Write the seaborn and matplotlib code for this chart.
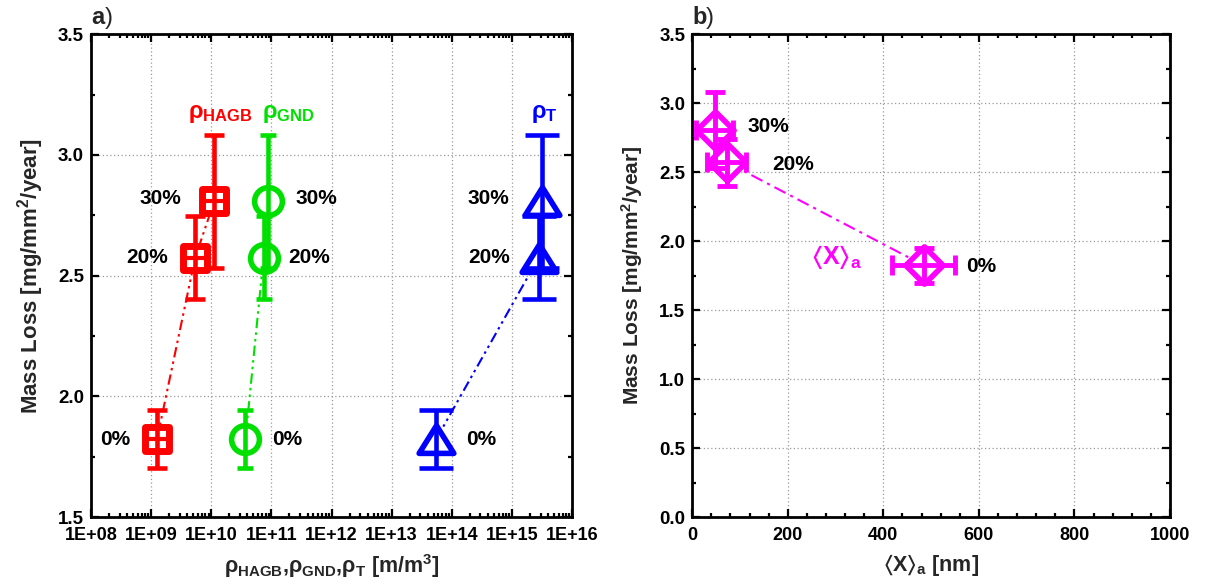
import numpy as np
import pandas as pd
import matplotlib
matplotlib.use("Agg")
import matplotlib.pyplot as plt
import seaborn as sns
from matplotlib.path import Path
from matplotlib.ticker import LogLocator, MultipleLocator, NullFormatter, FuncFormatter

# ---------------- data ----------------
strain = ["0%", "20%", "30%"]
mass_loss = [1.822, 2.575, 2.808]
mass_err = [0.12, 0.172, 0.275]
rho_hagb = [1.25e9, 5.4e9, 1.12e10]
rho_gnd = [3.7e10, 7.4e10, 8.8e10]
rho_t = [5.5e13, 2.8e15, 3.2e15]
x_a = [485.0, 72.0, 47.0]
x_a_err = [66.0, 41.0, 39.0]
mass_loss_b = [1.824, 2.573, 2.807]
mass_err_b = [0.126, 0.17, 0.273]

x_ticks_a = ["1E+08", "1E+09", "1E+10", "1E+11", "1E+12", "1E+13", "1E+14", "1E+15", "1E+16"]

RED, GREEN, BLUE, MAG = "#ff0000", "#00e000", "#0000ff", "#ff00ff"

sns.set_theme(style="ticks")
plt.rcParams["font.family"] = ["Liberation Sans", "DejaVu Sans"]
plt.rcParams["font.weight"] = "bold"
plt.rcParams["mathtext.fontset"] = "custom"
plt.rcParams["mathtext.rm"] = "Liberation Sans:bold"
plt.rcParams["mathtext.bf"] = "Liberation Sans:bold"
plt.rcParams["mathtext.it"] = "Liberation Sans:bold"
plt.rcParams["mathtext.fallback"] = "stixsans"

fig = plt.figure(figsize=(12.09, 5.88), dpi=100)
axA = fig.add_axes([0.0753, 0.1207, 0.3978, 0.821])
axB = fig.add_axes([0.5726, 0.1207, 0.3951, 0.821])

tri = Path([(0, 0.8), (-1, -0.8), (1, -0.8), (0, 0.8)],
           [Path.MOVETO, Path.LINETO, Path.LINETO, Path.CLOSEPOLY])

DDOT = (0, (5, 2, 1.2, 2, 1.2, 2))
DDASH = (0, (6, 2.5, 1.5, 2.5))
PCT = 15


def style_axes(ax):
    for sp in ax.spines.values():
        sp.set_linewidth(2.0)
        sp.set_color("black")
        sp.set_visible(True)
    ax.tick_params(which="both", direction="in", top=True, right=True,
                   width=1.6, colors="black")
    ax.tick_params(which="major", length=5.5, pad=7)
    ax.tick_params(which="minor", length=2.8)
    ax.tick_params(axis="y", labelsize=13.5, pad=5)
    ax.tick_params(axis="x", labelsize=13)
    ax.grid(True, which="major", linestyle=(0, (1, 2)), color="#9a9a9a", linewidth=0.9)
    ax.set_axisbelow(True)
    for lab in ax.get_xticklabels() + ax.get_yticklabels():
        lab.set_fontweight("bold")


# ---------------- panel a ----------------
series = [
    (rho_hagb, RED, "s", 17 ** 2, 5.0, 7, [(-42, 0), (-48, 0), (-54, 3)]),
    (rho_gnd, GREEN, "o", 20 ** 2, 4.0, 6, [(42, 0), (46, 0), (48, 3)]),
    (rho_t, BLUE, tri, 25 ** 2, 4.0, 12.5, [(45, 0), (-50, 0), (-54, 3)]),
]
for xs, col, mk, sz, lw, cap, offs in series:
    df = pd.DataFrame({"x": xs, "y": mass_loss, "strain": strain})
    sns.lineplot(data=df, x="x", y="y", sort=False, ax=axA, color=col,
                 linewidth=1.5, linestyle=DDOT, zorder=2)
    sns.scatterplot(data=df, x="x", y="y", ax=axA, marker=mk, s=sz,
                    facecolor="white", edgecolor=col, linewidth=lw, zorder=3)
    if mk == "s":
        sns.scatterplot(data=df, x="x", y="y", ax=axA, marker="_", s=sz,
                        color=col, linewidth=3.0, zorder=3.5)
    axA.errorbar(xs, mass_loss, yerr=mass_err, fmt="none", ecolor=col,
                 elinewidth=3.3, capsize=cap, capthick=3.3, zorder=4)
    for xi, yi, s, (dx, dy) in zip(xs, mass_loss, strain, offs):
        axA.annotate(s, (xi, yi), xytext=(dx * 0.72, dy * 0.72), textcoords="offset points",
                     ha="center", va="center", fontsize=PCT, fontweight="bold", color="black")

axA.set_xscale("log")
axA.set_xlim(1e8, 1e16)
axA.set_ylim(1.5, 3.5)
axA.xaxis.set_minor_locator(LogLocator(base=10, subs=np.arange(2, 10), numticks=200))
axA.xaxis.set_minor_formatter(NullFormatter())
axA.set_xticks([10.0 ** k for k in range(8, 17)])
axA.set_xticklabels(x_ticks_a)
axA.yaxis.set_major_locator(MultipleLocator(0.5))
axA.yaxis.set_minor_locator(MultipleLocator(0.25))
axA.yaxis.set_major_formatter(FuncFormatter(lambda v, p: f"{v:.1f}"))
style_axes(axA)
axA.set_xlabel(r"ρ$_{\mathbf{HAGB}}$,ρ$_{\mathbf{GND}}$,ρ$_{\mathbf{T}}$ [m/m$^{\mathbf{3}}$]",
               fontsize=15.5, fontweight="bold", labelpad=6)
axA.set_ylabel(r"Mass Loss [mg/mm$^{\mathbf{2}}$/year]", fontsize=16, fontweight="bold", labelpad=9)
axA.text(4.1e9, 3.17, r"ρ$_{\mathbf{HAGB}}$", color=RED, fontsize=17, fontweight="bold",
         ha="left", va="center")
axA.text(7.0e10, 3.17, r"ρ$_{\mathbf{GND}}$", color=GREEN, fontsize=17, fontweight="bold",
         ha="left", va="center")
axA.text(2.1e15, 3.17, r"ρ$_{\mathbf{T}}$", color=BLUE, fontsize=17, fontweight="bold",
         ha="left", va="center")
axA.text(0.0, 1.01, "a", transform=axA.transAxes, fontsize=17, fontweight="bold", va="bottom")
axA.text(0.028, 1.01, ")", transform=axA.transAxes, fontsize=17, fontweight="normal", va="bottom")

# ---------------- panel b ----------------
dfb = pd.DataFrame({"x": x_a, "y": mass_loss_b, "strain": strain})
sns.lineplot(data=dfb, x="x", y="y", sort=False, ax=axB, color=MAG,
             linewidth=1.5, linestyle=DDASH, zorder=2)
sns.scatterplot(data=dfb, x="x", y="y", ax=axB, marker="D", s=19 ** 2,
                facecolor="white", edgecolor=MAG, linewidth=4.0, zorder=3)
axB.errorbar(x_a, mass_loss_b, xerr=x_a_err, yerr=mass_err_b, fmt="none", ecolor=MAG,
             elinewidth=3.5, capsize=7, capthick=3.5, zorder=4)
for xi, yi, s, (dx, dy) in zip(x_a, mass_loss_b, strain, [(57, -1), (66, -2), (54, 3)]):
    axB.annotate(s, (xi, yi), xytext=(dx * 0.72, dy * 0.72), textcoords="offset points",
                 ha="center", va="center", fontsize=PCT, fontweight="bold", color="black")
axB.text(302, 1.887, r"$\langle\mathbf{X}\rangle_{\mathbf{a}}$", color=MAG, fontsize=18,
         ha="center", va="center")
axB.set_xlim(0, 1000)
axB.set_ylim(0, 3.5)
axB.xaxis.set_major_locator(MultipleLocator(200))
axB.xaxis.set_minor_locator(MultipleLocator(40))
axB.yaxis.set_major_locator(MultipleLocator(0.5))
axB.yaxis.set_minor_locator(MultipleLocator(0.25))
axB.yaxis.set_major_formatter(FuncFormatter(lambda v, p: f"{v:.1f}"))
style_axes(axB)
axB.set_xlabel(r"$\langle\mathbf{X}\rangle_{\mathbf{a}}$ [nm]", fontsize=15.5, fontweight="bold",
               labelpad=6)
axB.set_ylabel(r"Mass Loss [mg/mm$^{\mathbf{2}}$/year]", fontsize=15, fontweight="bold", labelpad=10)
axB.text(0.0, 1.01, "b", transform=axB.transAxes, fontsize=17, fontweight="bold", va="bottom")
axB.text(0.029, 1.01, ")", transform=axB.transAxes, fontsize=17, fontweight="normal", va="bottom")

fig.savefig("out.png", dpi=100)
